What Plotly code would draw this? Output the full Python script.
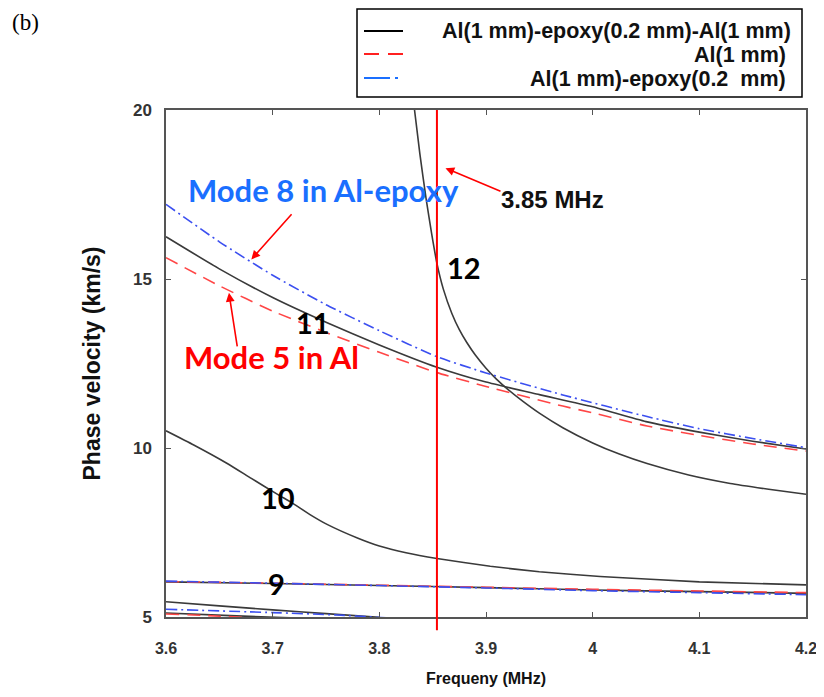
import plotly.graph_objects as go

# ---------------- data ----------------
# Al(1 mm)-epoxy(0.2 mm)-Al(1 mm)  (black solid)
f_m12 = [3.833, 3.838, 3.844, 3.849, 3.854, 3.86, 3.868, 3.875, 3.882, 3.89, 3.9, 3.91, 3.921, 3.935, 3.95,
         3.972, 4.0, 4.025, 4.051, 4.09, 4.129, 4.165, 4.2]
v_m12 = [20.0, 18.7, 17.34, 16.35, 15.46, 14.70, 13.98, 13.5, 13.12, 12.75, 12.36, 12.03, 11.72, 11.37, 11.03,
         10.6, 10.15, 9.82, 9.54, 9.2, 8.95, 8.78, 8.63]

f_m11 = [3.6, 3.65, 3.7, 3.75, 3.8, 3.854, 3.9, 3.95, 4.0, 4.05, 4.1, 4.15, 4.2]
v_m11 = [16.25, 15.3, 14.45, 13.72, 13.05, 12.39, 11.95, 11.58, 11.22, 10.78, 10.47, 10.2, 9.97]

f_m10 = [3.6, 3.626, 3.657, 3.68, 3.705, 3.719, 3.735, 3.751, 3.78, 3.8, 3.825, 3.854, 3.904, 3.95, 4.007, 4.1, 4.2]
v_m10 = [10.51, 10.09, 9.55, 9.1, 8.62, 8.36, 8.03, 7.74, 7.33, 7.1, 6.9, 6.73, 6.5, 6.34, 6.2, 6.04, 5.95]

f_m9 = [3.6, 3.7, 3.8, 3.9, 4.0, 4.1, 4.2]
v_m9 = [6.04, 5.99, 5.93, 5.87, 5.80, 5.75, 5.70]

f_m8c = [3.6, 3.65, 3.7, 3.75, 3.8]
v_m8c = [5.45, 5.33, 5.21, 5.10, 4.99]

f_m7c = [3.6, 3.66, 3.74]
v_m7c = [5.12, 5.04, 4.95]

# Al(1 mm)  (red dashed)
f_al5 = [3.6, 3.65, 3.7, 3.75, 3.8, 3.854, 3.9, 3.972, 4.0, 4.051, 4.1, 4.15, 4.2]
v_al5 = [15.63, 14.8, 14.05, 13.42, 12.83, 12.23, 11.82, 11.24, 11.04, 10.65, 10.37, 10.12, 9.91]

f_al4 = [3.6, 3.7, 3.8, 3.9, 4.0, 4.1, 4.2]
v_al4 = [6.05, 6.0, 5.94, 5.88, 5.82, 5.77, 5.72]

f_al3 = [3.6, 3.64, 3.69]
v_al3 = [5.09, 5.04, 4.96]

# Al(1 mm)-epoxy(0.2 mm)  (blue dash-dot)
f_ae8 = [3.6, 3.65, 3.7, 3.75, 3.8, 3.854, 3.9, 3.972, 4.051, 4.1, 4.15, 4.2]
v_ae8 = [17.21, 16.1, 15.11, 14.24, 13.47, 12.70, 12.22, 11.57, 10.93, 10.57, 10.28, 10.01]

f_ae7 = [3.6, 3.7, 3.8, 3.9, 4.0, 4.1, 4.2]
v_ae7 = [6.06, 6.0, 5.93, 5.86, 5.78, 5.72, 5.66]

f_ae6 = [3.6, 3.7, 3.76, 3.815]
v_ae6 = [5.23, 5.13, 5.06, 4.96]

x_ticks = [3.6, 3.7, 3.8, 3.9, 4.0, 4.1, 4.2]
x_ticklabels = ["3.6", "3.7", "3.8", "3.9", "4", "4.1", "4.2"]
y_ticks = [5, 10, 15, 20]
y_ticklabels = ["5", "10", "15", "20"]

legend_labels = ["Al(1 mm)-epoxy(0.2 mm)-Al(1 mm)", "Al(1 mm)", "Al(1 mm)-epoxy(0.2  mm)"]
marker_freq = 3.854   # red marker line (labelled "3.85 MHz"), position as drawn in the reference

# ---------------- styles ----------------
BLACK = "#3a3a3a"
RED = "#ff4646"
BLUE = "#3b4ff0"
black_line = dict(color=BLACK, width=1.6)
red_line = dict(color=RED, width=1.6, dash="13px,8px")
blue_line = dict(color=BLUE, width=1.6, dash="11px,4px,2px,4px")

fig = go.Figure()
for fx, vy in [(f_m12, v_m12), (f_m11, v_m11), (f_m10, v_m10), (f_m9, v_m9), (f_m8c, v_m8c), (f_m7c, v_m7c)]:
    fig.add_trace(go.Scatter(x=fx, y=vy, mode="lines", line=dict(black_line, shape="spline", smoothing=0.5),
                             showlegend=False, hoverinfo="skip"))
for fx, vy in [(f_al5, v_al5), (f_al4, v_al4), (f_al3, v_al3)]:
    fig.add_trace(go.Scatter(x=fx, y=vy, mode="lines", line=dict(red_line, shape="spline", smoothing=0.5),
                             showlegend=False, hoverinfo="skip"))
for fx, vy in [(f_ae8, v_ae8), (f_ae7, v_ae7), (f_ae6, v_ae6)]:
    fig.add_trace(go.Scatter(x=fx, y=vy, mode="lines", line=dict(blue_line, shape="spline", smoothing=0.5),
                             showlegend=False, hoverinfo="skip"))

AXW = "Liberation Sans, Arial, sans-serif"
LAB = "Lato, Open Sans, sans-serif"
FRAME = "#555555"

# the page body adds an 8 px margin; keep the whole page within 824x697 so nothing is rescaled
fig.update_layout(
    width=808, height=681,
    margin=dict(l=158, r=10, t=102, b=72, autoexpand=False),
    plot_bgcolor="white", paper_bgcolor="white",
    showlegend=False,
    xaxis=dict(range=[3.6, 4.2], tickvals=x_ticks, ticktext=x_ticklabels, automargin=False,
               ticklabeloverflow="allow",
               ticks="inside", ticklen=5, tickcolor=FRAME, tickwidth=1,
               showline=True, linecolor=FRAME, linewidth=1.5, mirror="ticks",
               showgrid=False, zeroline=False, ticklabelstandoff=16,
               tickfont=dict(family=AXW, size=16, color="#333333", weight="bold"),
               title=dict(text="Frequeny (MHz)", standoff=17,
                          font=dict(family=AXW, size=16, color="#111111", weight="bold"))),
    yaxis=dict(range=[5, 20], tickvals=y_ticks, ticktext=y_ticklabels, automargin=False,
               ticklabeloverflow="allow",
               ticks="inside", ticklen=5, tickcolor=FRAME, tickwidth=1,
               showline=True, linecolor=FRAME, linewidth=1.5, mirror="ticks",
               showgrid=False, zeroline=False, ticklabelstandoff=9,
               tickfont=dict(family=AXW, size=17, color="#333333", weight="bold"),
               title=dict(text="Phase velocity (km/s)", standoff=26,
                          font=dict(family=AXW, size=23, color="#111111", weight="bold"))),
)

# vertical marker line
fig.add_shape(type="line", xref="x", yref="paper", x0=marker_freq, x1=marker_freq, y0=-0.026, y1=1.0,
              line=dict(color="#ff0000", width=2))

# text labels
ann = []
ann.append(dict(x=3.748, y=17.63, xref="x", yref="y", text="Mode 8 in Al-epoxy", showarrow=False,
                font=dict(family=LAB, size=31, color="#1a6fff", weight="bold")))
ann.append(dict(x=3.699, y=12.69, xref="x", yref="y", text="Mode 5 in Al", showarrow=False,
                font=dict(family=LAB, size=31, color="#ff0000", weight="bold")))
ann.append(dict(x=3.912, y=17.34, xref="x", yref="y", text="3.85 MHz", showarrow=False, xanchor="left",
                font=dict(family=AXW, size=24, color="#111111", weight="bold")))
for t, fx, vy in [("12", 3.879, 15.33), ("11", 3.738, 13.7), ("10", 3.705, 8.55), ("9", 3.704, 6.0)]:
    ann.append(dict(x=fx, y=vy, xref="x", yref="y", text=t, showarrow=False,
                    font=dict(family=LAB, size=29, color="#000000", weight="bold")))
# arrows
for hx, hy, tx, ty in [(3.680, 15.58, 3.719, 16.96), (3.659, 14.59, 3.667, 12.96), (3.862, 18.28, 3.915, 17.58)]:
    ann.append(dict(x=hx, y=hy, ax=tx, ay=ty, xref="x", yref="y", axref="x", ayref="y", text="",
                    showarrow=True, arrowhead=2, arrowsize=1.1, arrowwidth=1.6, arrowcolor="#ff0000"))


def px2paper(px, py):
    """screen pixel of the reference -> paper coordinate of the plot area (166..806, 110..617)"""
    return (px - 166) / 640, (617 - py) / 507


# panel letter
bx, by = px2paper(10, 22)
ann.append(dict(x=bx, y=by, xref="paper", yref="paper", xanchor="left", yanchor="middle",
                text="(b)", showarrow=False,
                font=dict(family="Liberation Serif, Times New Roman, serif", size=23, color="black")))

# manual legend (right-aligned labels as in the reference)
bx0, by0 = px2paper(357, 97)
bx1, by1 = px2paper(802, 9)
fig.add_shape(type="rect", xref="paper", yref="paper", x0=bx0, y0=by0, x1=bx1, y1=by1,
              line=dict(color="black", width=1.5), fillcolor="white", layer="above")
legend_styles = [dict(color="black", width=2),
                 dict(color="#ff2020", width=2, dash="15px,9px"),
                 dict(color="#1a6fff", width=2, dash="26px,5px,3px,5px")]
line_ys = [31, 54, 78]
text_ys = [31, 55, 79]
text_rx = [793, 788, 788]
for lab, st, ly, ty, rx in zip(legend_labels, legend_styles, line_ys, text_ys, text_rx):
    lx0, lyp = px2paper(364, ly)
    lx1, _ = px2paper(403, ly)
    fig.add_shape(type="line", xref="paper", yref="paper", x0=lx0, x1=lx1, y0=lyp, y1=lyp, line=st)
    tx, typ = px2paper(rx, ty)
    ann.append(dict(x=tx, y=typ, xref="paper", yref="paper", xanchor="right", yanchor="middle",
                    text=lab, showarrow=False,
                    font=dict(family=AXW, size=21.5, color="#111111", weight="bold")))

fig.update_layout(annotations=ann)
fig.write_html("out.html")
